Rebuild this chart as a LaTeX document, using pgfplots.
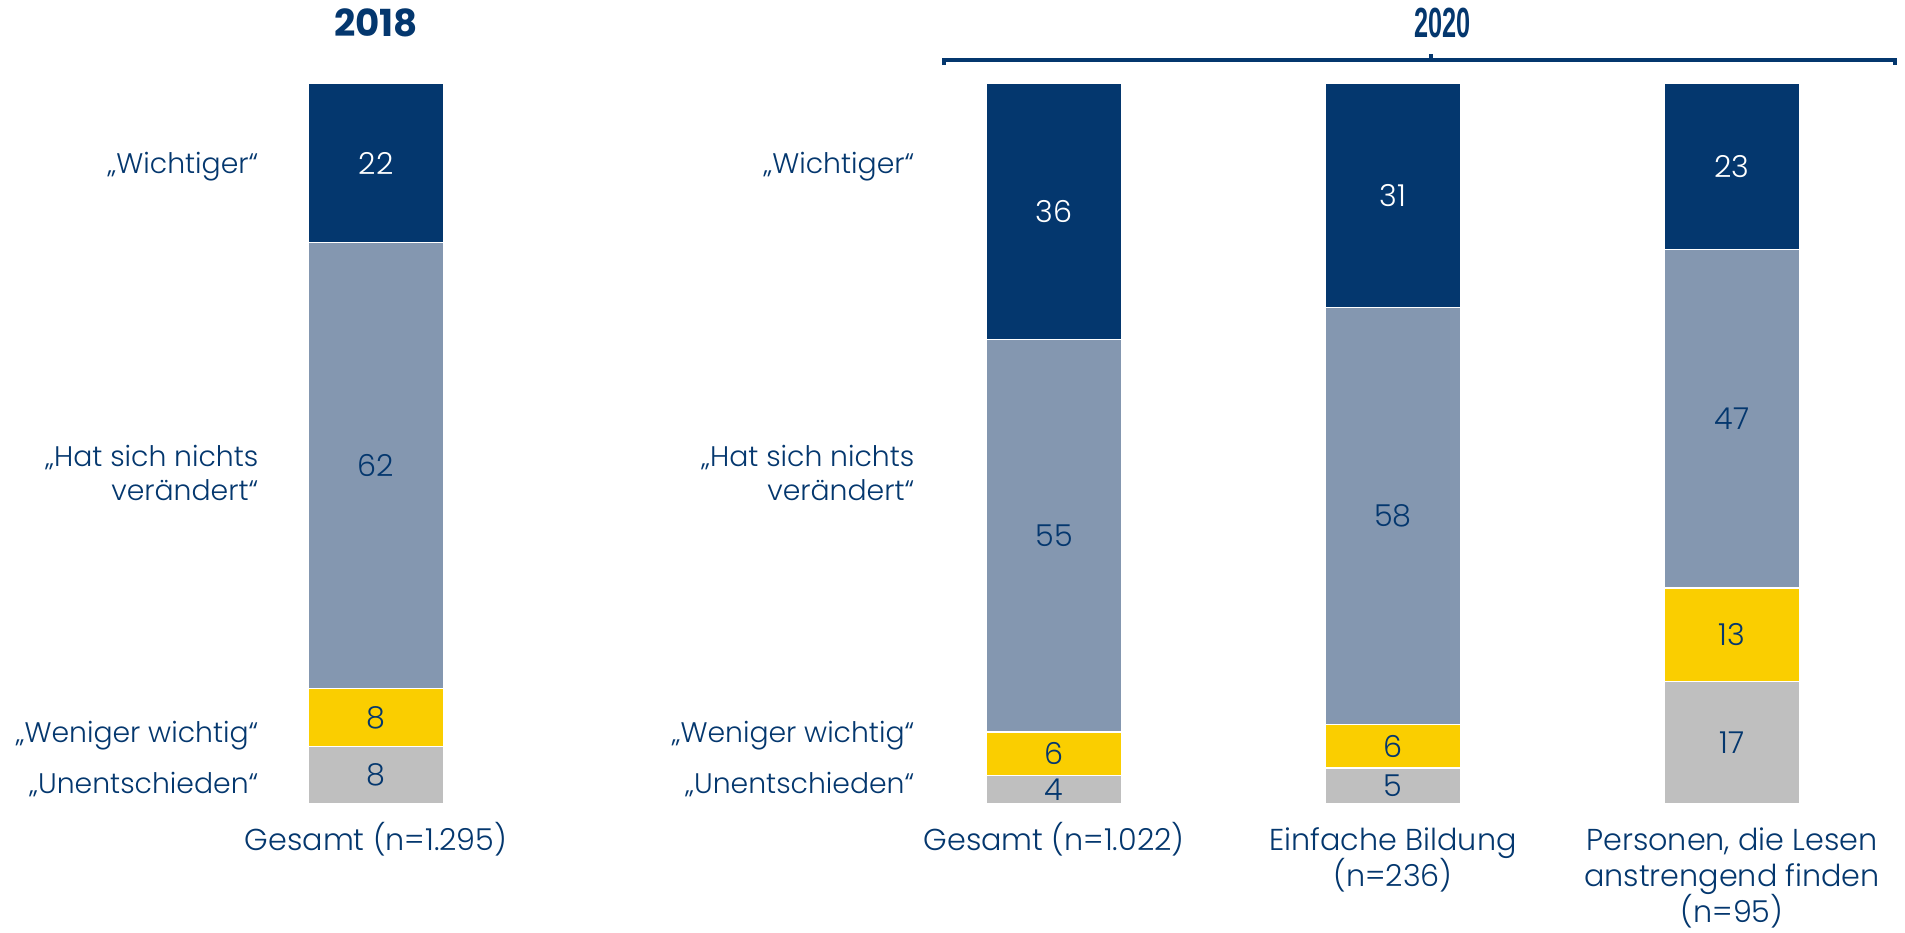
\documentclass[border=0pt]{standalone}
\usepackage{fontspec}
\setmainfont{Poppins}[UprightFont=* Light, BoldFont=* Bold]
\newfontfamily\yearfont{Liberation Sans}
\usepackage{graphicx}
\usepackage{pgfplots}
\pgfplotsset{compat=1.18}

\definecolor{navy}{RGB}{4,55,110}
\definecolor{greyblue}{RGB}{132,151,176}
\definecolor{gold}{RGB}{250,206,0}
\definecolor{lightgrey}{RGB}{191,191,191}

\pgfplotsset{
  seg/.style={
    fill=#1, draw=white, line width=0.3pt,
    nodes near coords={\pgfmathprintnumber[assume math mode=true]{\pgfplotspointmeta}},
    point meta=explicit,
    every node near coord/.append style={anchor=center, font=\numfont, text=navy},
  },
}
\newcommand\numfont{\fontsize{8.6}{10}\selectfont}
\newcommand\catfont{\fontsize{8.05}{9.7}\selectfont}
\newcommand\barfont{\fontsize{8.6}{10.2}\selectfont}
\tikzset{lab/.style={inner sep=0pt, text=navy, font=\catfont},
  blab/.style={inner sep=0pt, text=navy, font=\barfont, anchor=base}}

\begin{document}
\begin{tikzpicture}
\begin{axis}[
  anchor=origin, at={(0,0)},
  scale only axis,
  x=3.39cm, y=0.072cm,
  xmin=-1.2, xmax=4.6,
  ymin=0, ymax=100,
  ybar stacked,
  bar width=1.35cm,
  hide axis,
  clip mode=individual,
]
% segment heights as drawn (the 2020 total bar is scaled to 100), labels in [ ]
\addplot[seg=lightgrey] coordinates {(0,8) [8] (2,4) [4] (3,5) [5] (4,17) [17]};
\addplot[seg=gold] coordinates {(0,8) [8] (2,6) [6] (3,6) [6] (4,13) [13]};
\addplot[seg=greyblue] coordinates {(0,62) [62] (2,54.5) [55] (3,58) [58] (4,47) [47]};
\addplot[seg=navy, every node near coord/.append style={text=white}]
  coordinates {(0,22) [22] (2,35.5) [36] (3,31) [31] (4,23) [23]};

% category labels, left of each group
\node[lab, anchor=base east] at (axis cs:-0.345,87.5) {„Wichtiger“};
\node[lab, anchor=base east] at (axis cs:-0.345,46.9) {„Hat sich nichts};
\node[lab, anchor=base east] at (axis cs:-0.345,42.1) {verändert“};
\node[lab, anchor=base east] at (axis cs:-0.345,8.5) {„Weniger wichtig“};
\node[lab, anchor=base east] at (axis cs:-0.345,1.4) {„Unentschieden“};
\node[lab, anchor=base east] at (axis cs:1.59,87.5) {„Wichtiger“};
\node[lab, anchor=base east] at (axis cs:1.59,46.9) {„Hat sich nichts};
\node[lab, anchor=base east] at (axis cs:1.59,42.1) {verändert“};
\node[lab, anchor=base east] at (axis cs:1.59,8.5) {„Weniger wichtig“};
\node[lab, anchor=base east] at (axis cs:1.59,1.4) {„Unentschieden“};

% bar labels below
\node[blab] at (axis cs:0,-6.5) {Gesamt (n=1.295)};
\node[blab] at (axis cs:2,-6.5) {Gesamt (n=1.022)};
\node[blab] at (axis cs:3,-6.5) {Einfache Bildung};
\node[blab] at (axis cs:3,-11.5) {(n=236)};
\node[blab] at (axis cs:4,-6.5) {Personen, die Lesen};
\node[blab] at (axis cs:4,-11.5) {anstrengend finden};
\node[blab] at (axis cs:4,-16.5) {(n=95)};

% years and the 2020 bracket
\node[text=navy, inner sep=0pt, font=\fontsize{10.6}{12}\selectfont\bfseries] at (axis cs:0,108.5) {2018};
\node[text=navy, inner sep=0pt, font=\fontsize{12}{13}\selectfont\yearfont\bfseries] at (axis cs:3.145,108.5) {\scalebox{0.6}[1]{2020}};
\draw[navy, line width=1.2pt] (axis cs:1.676,102.6) -- (axis cs:1.676,103.3)
  -- (axis cs:4.481,103.3) -- (axis cs:4.481,102.6);
\draw[navy, line width=1.2pt] (axis cs:3.112,103.3) -- (axis cs:3.112,104.1);
\end{axis}
\pgfresetboundingbox
\path[use as bounding box] (-3.76,-1.28) rectangle (15.29,8.04);
\end{tikzpicture}
\end{document}
